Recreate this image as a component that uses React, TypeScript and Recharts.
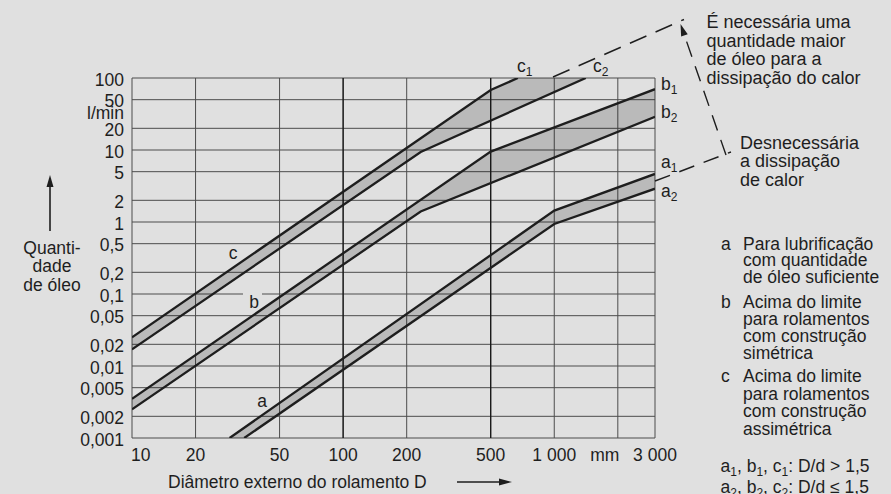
import { ComposedChart, Area, Line, XAxis, YAxis, CartesianGrid, ReferenceLine } from "recharts";

const W = 891;
const H = 494;
const BG = "#e0e0e0";
const INK = "#1e1e1e";
const GRID = "#4d4d4d";
const FONT = "'Liberation Sans', Arial, Helvetica, sans-serif";

// outer diameter D (mm) and oil quantity (l/min), both log
const xTicks = [10, 20, 50, 100, 200, 500, 1000, 2000, 3000];
const yTicks = [0.001, 0.002, 0.005, 0.01, 0.02, 0.05, 0.1, 0.2, 0.5, 1, 2, 5, 10, 20, 50, 100];

// corner points of each curve
const c1 = [
  { d: 10, q: 0.025 },
  { d: 500, q: 68 },
  { d: 672, q: 100 },
];
const c2 = [
  { d: 10, q: 0.017 },
  { d: 233, q: 9.4 },
  { d: 1410, q: 100 },
];
const b1 = [
  { d: 10, q: 0.0035 },
  { d: 500, q: 9.5 },
  { d: 3000, q: 70 },
];
const b2 = [
  { d: 10, q: 0.0025 },
  { d: 233, q: 1.4 },
  { d: 3000, q: 29 },
];
const a1 = [
  { d: 29, q: 0.001 },
  { d: 1000, q: 1.44 },
  { d: 3000, q: 4.65 },
];
const a2 = [
  { d: 34, q: 0.001 },
  { d: 1000, q: 0.94 },
  { d: 3000, q: 2.9 },
];

// shaded bands between the two curves of each group
const bandC = [
  { d: 10, lo: 0.017, hi: 0.025 },
  { d: 233, lo: 9.4, hi: 14.5 },
  { d: 500, lo: 25.6, hi: 68 },
  { d: 672, lo: 37.8, hi: 100 },
  { d: 1410, lo: 100, hi: 100 },
];
const bandB = [
  { d: 10, lo: 0.0025, hi: 0.0035 },
  { d: 233, lo: 1.4, hi: 2.0 },
  { d: 500, lo: 3.46, hi: 9.5 },
  { d: 3000, lo: 29, hi: 70 },
];
const bandA = [
  { d: 29, lo: 0.001, hi: 0.001 },
  { d: 34, lo: 0.001, hi: 0.00139 },
  { d: 1000, lo: 0.94, hi: 1.44 },
  { d: 3000, lo: 2.9, hi: 4.65 },
];

const curves = [c1, c2, b1, b2, a1, a2];
const bands = [bandC, bandB, bandA];

const legendA = ["Para lubrificação", "com quantidade", "de óleo suficiente"];
const legendB = ["Acima do limite", "para rolamentos", "com construção", "simétrica"];
const legendC = ["Acima do limite", "para rolamentos", "com construção", "assimétrica"];
const noteTop = ["É necessária uma", "quantidade maior", "de óleo para a", "dissipação do calor"];
const noteBottom = ["Desnecessária", "a dissipação", "de calor"];

const fmtQ = (v: number) => String(v).replace(".", ",");
const fmtD = (v: number) => (v >= 1000 ? `${Math.floor(v / 1000)} 000` : String(v));

const XTick = (p: any) => {
  const v = p.payload.value;
  let label = fmtD(v);
  let anchor = "middle";
  let dx = 0;
  if (v === 10) {
    anchor = "start";
    dx = -1;
  }
  if (v === 2000) {
    label = "mm";
    dx = -13;
  }
  return (
    <text x={p.x + dx} y={p.y + 23} textAnchor={anchor} fontSize={17.5} fill={INK} fontFamily={FONT}>
      {label}
    </text>
  );
};

const YTick = (p: any) => (
  <text x={p.x} y={p.y + 7.5} textAnchor="end" fontSize={17.5} fill={INK} fontFamily={FONT}>
    {fmtQ(p.payload.value)}
  </text>
);

const Sub = ({ x, y, t, s }: { x: number; y: number; t: string; s: string }) => (
  <text x={x} y={y} fontSize={17.5} fill={INK} fontFamily={FONT}>
    {t}
    <tspan fontSize={12} dy={4}>
      {s}
    </tspan>
  </text>
);

function Overlay() {
  const txt = { fontSize: 17.5, fill: INK, fontFamily: FONT };
  // dimension arrow between the two dashed guide lines
  const tip = { x: 680.5, y: 24 };
  const tail = { x: 726, y: 155 };
  const len = Math.hypot(tip.x - tail.x, tip.y - tail.y);
  const ux = (tip.x - tail.x) / len;
  const uy = (tip.y - tail.y) / len;
  const bx = tip.x - ux * 12;
  const by = tip.y - uy * 12;
  const head = `${tip.x},${tip.y} ${bx - uy * 3.5},${by + ux * 3.5} ${bx + uy * 3.5},${by - ux * 3.5}`;
  return (
    <svg width={W} height={H} style={{ position: "absolute", left: 0, top: 0, pointerEvents: "none" }}>
      {/* y axis title */}
      <line x1={50} y1={231} x2={50} y2={184} stroke={INK} strokeWidth={1.6} />
      <polygon points="50,175 46.5,187 53.5,187" fill={INK} />
      <text {...txt} x={52} y={253.5} textAnchor="middle">Quanti-</text>
      <text {...txt} x={52} y={272} textAnchor="middle">dade</text>
      <text {...txt} x={52} y={290.5} textAnchor="middle">de óleo</text>
      <text {...txt} x={124} y={119} textAnchor="end">l/min</text>

      {/* x axis title */}
      <text {...txt} x={168} y={488}>Diâmetro externo do rolamento D</text>
      <line x1={457} y1={482} x2={500} y2={482} stroke={INK} strokeWidth={1.6} />
      <polygon points="512,482 499,478.5 499,485.5" fill={INK} />

      {/* band letters */}
      <text {...txt} x={233} y={259} textAnchor="middle">c</text>
      <rect x={243} y={290} width={19} height={8} fill={BG} />
      <text {...txt} x={254} y={308} textAnchor="middle">b</text>
      <text {...txt} x={262} y={406.5} textAnchor="middle">a</text>

      {/* curve end labels */}
      <Sub x={517} y={72} t="c" s="1" />
      <Sub x={593} y={72} t="c" s="2" />
      <Sub x={661} y={89.5} t="b" s="1" />
      <Sub x={661} y={117.5} t="b" s="2" />
      <Sub x={661} y={167.5} t="a" s="1" />
      <Sub x={661} y={196.5} t="a" s="2" />

      {/* dashed guide lines */}
      <line x1={553} y1={77} x2={684} y2={19.5} stroke={INK} strokeWidth={1.4} strokeDasharray="18 10" />
      <line x1={655} y1={181} x2={731} y2={152} stroke={INK} strokeWidth={1.4} strokeDasharray="16 10" />
      <line x1={tail.x} y1={tail.y} x2={bx} y2={by} stroke={INK} strokeWidth={1.4} strokeDasharray="16 10" />
      <polygon points={head} fill={INK} />

      {noteTop.map((s, i) => (
        <text key={s} {...txt} fontSize={18} x={706.5} y={28 + i * 18.7}>{s}</text>
      ))}
      {noteBottom.map((s, i) => (
        <text key={s} {...txt} fontSize={18} x={740} y={148.7 + i * 18.5}>{s}</text>
      ))}

      {/* legend */}
      <text {...txt} x={721} y={249.5}>a</text>
      {legendA.map((s, i) => (
        <text key={s} {...txt} x={743} y={249.5 + i * 16.8}>{s}</text>
      ))}
      <text {...txt} x={721} y={308}>b</text>
      {legendB.map((s, i) => (
        <text key={s} {...txt} x={743} y={308 + i * 16.9}>{s}</text>
      ))}
      <text {...txt} x={721} y={382}>c</text>
      {legendC.map((s, i) => (
        <text key={s} {...txt} x={743} y={382 + i * 17.5}>{s}</text>
      ))}
      <text {...txt} x={720.5} y={472}>
        a<tspan fontSize={12} dy={4}>1</tspan>
        <tspan dy={-4}>, b</tspan>
        <tspan fontSize={12} dy={4}>1</tspan>
        <tspan dy={-4}>, c</tspan>
        <tspan fontSize={12} dy={4}>1</tspan>
        <tspan dy={-4}>: D/d &gt; 1,5</tspan>
      </text>
      <text {...txt} x={720.5} y={492.5}>
        a<tspan fontSize={12} dy={4}>2</tspan>
        <tspan dy={-4}>, b</tspan>
        <tspan fontSize={12} dy={4}>2</tspan>
        <tspan dy={-4}>, c</tspan>
        <tspan fontSize={12} dy={4}>2</tspan>
        <tspan dy={-4}>: D/d ≤ 1,5</tspan>
      </text>
    </svg>
  );
}

export default function App() {
  return (
    <div style={{ position: "absolute", left: 0, top: 0, width: W, height: H, background: BG, overflow: "hidden" }}>
      <ComposedChart width={W} height={H} margin={{ top: 78, right: 236, bottom: 0, left: 0 }}>
        <CartesianGrid stroke={GRID} strokeWidth={1} />
        <XAxis
          dataKey="d"
          type="number"
          scale="log"
          domain={[10, 3000]}
          ticks={xTicks}
          interval={0}
          allowDataOverflow
          axisLine={false}
          tickLine={false}
          tickSize={0}
          tickMargin={0}
          height={56}
          tick={(p: any) => <XTick {...p} />}
        />
        <YAxis
          type="number"
          scale="log"
          domain={[0.001, 100]}
          ticks={yTicks}
          interval={0}
          allowDataOverflow
          axisLine={false}
          tickLine={false}
          tickSize={0}
          tickMargin={8}
          width={132}
          tick={(p: any) => <YTick {...p} />}
        />
        {bands.map((band, i) => (
          <Area
            key={`band${i}`}
            data={band}
            dataKey={(r: any) => [r.lo, r.hi]}
            type="linear"
            stroke="none"
            fill="#000"
            fillOpacity={0.17}
            isAnimationActive={false}
          />
        ))}
        <ReferenceLine x={100} stroke="#111" strokeWidth={1.2} />
        <ReferenceLine x={500} stroke="#111" strokeWidth={1.2} />
        {curves.map((c, i) => (
          <Line
            key={`curve${i}`}
            data={c}
            dataKey="q"
            type="linear"
            stroke={INK}
            strokeWidth={2.3}
            dot={false}
            isAnimationActive={false}
          />
        ))}
      </ComposedChart>
      <Overlay />
    </div>
  );
}
